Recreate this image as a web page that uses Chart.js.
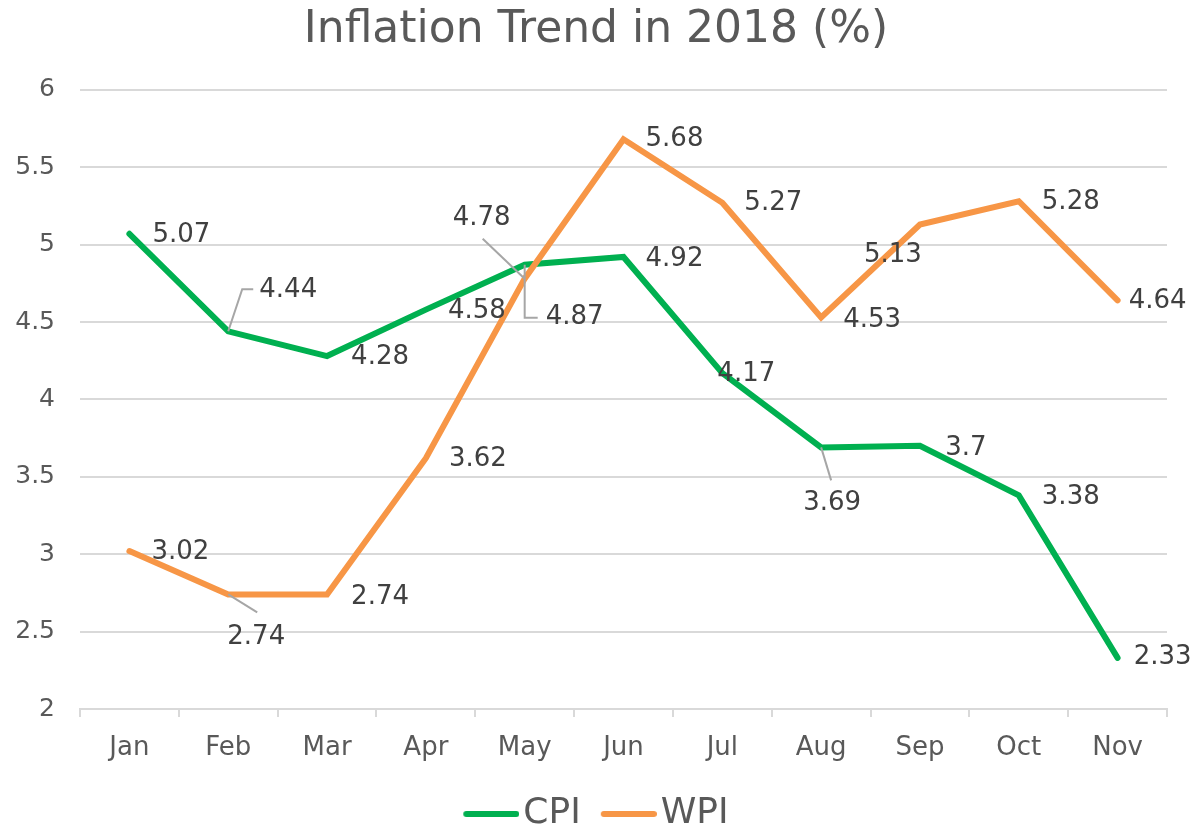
<!DOCTYPE html>
<html>
<head>
<meta charset="utf-8">
<script src="https://cdn.jsdelivr.net/npm/chart.js@4.4.0/dist/chart.umd.min.js"></script>
<style>
  html, body { margin: 0; padding: 0; background: #fff; }
</style>
</head>
<body>
<canvas id="myChart" width="1192" height="825"></canvas>
<script>
// data
const months = ["Jan", "Feb", "Mar", "Apr", "May", "Jun", "Jul", "Aug", "Sep", "Oct", "Nov"];
const cpiValues = [5.07, 4.44, 4.28, 4.58, 4.87, 4.92, 4.17, 3.69, 3.7, 3.38, 2.33];
const wpiValues = [3.02, 2.74, 2.74, 3.62, 4.78, 5.68, 5.27, 4.53, 5.13, 5.28, 4.64];
const yTickLabels = ["2", "2.5", "3", "3.5", "4", "4.5", "5", "5.5", "6"];

const FONT = "'DejaVu Sans', sans-serif";
const CPI_COLOR = '#00b050';
const WPI_COLOR = '#f79646';

// where each value label sits, relative to its point (text centre)
const labelOffsets = [
    [[52, 1], [60, -41], [53, 1], [51, 2], [50, 53], [51, 2], [24, 1], [11, 56], [46, 2], [52, 2], [45, -1]],
    [[51, 1], [28, 43], [53, 3], [52, 1], [-43, -60], [51, 0], [51, 0], [51, 3], [-27, 31], [52, 1], [40, 1]]
];
// leader lines (polyline relative to the point)
const leaders = [
    { 1: [[0, 0], [14, -42], [25, -42]], 4: [[0, 0], [0, 53], [13, 53]], 7: [[0, 0], [10, 33]] },
    { 1: [[0, 0], [29, 18]], 4: [[0, 0], [-42, -40]] }
];

// legend line marker: wider than the box so the text sits close to it
function legendLine(color) {
    const c = document.createElement('canvas');
    c.width = 70;
    c.height = 10;
    const g = c.getContext('2d');
    g.strokeStyle = color;
    g.lineWidth = 6;
    g.lineCap = 'round';
    g.beginPath();
    g.moveTo(17, 5);
    g.lineTo(67, 5);
    g.stroke();
    return c;
}

const valueLabels = {
    id: 'valueLabels',
    afterDatasetsDraw(chart) {
        const ctx = chart.ctx;
        ctx.save();
        chart.data.datasets.forEach((ds, di) => {
            const meta = chart.getDatasetMeta(di);
            meta.data.forEach((pt, i) => {
                const lead = leaders[di][i];
                if (lead) {
                    ctx.beginPath();
                    ctx.strokeStyle = '#a6a6a6';
                    ctx.lineWidth = 2;
                    lead.forEach((p, k) => {
                        if (k === 0) ctx.moveTo(pt.x + p[0], pt.y + p[1]);
                        else ctx.lineTo(pt.x + p[0], pt.y + p[1]);
                    });
                    ctx.stroke();
                }
                const off = labelOffsets[di][i];
                ctx.font = '26px ' + FONT;
                ctx.fillStyle = '#404040';
                ctx.textAlign = 'center';
                ctx.textBaseline = 'middle';
                ctx.fillText(String(ds.data[i]), pt.x + off[0], pt.y + off[1]);
            });
        });
        ctx.restore();
    }
};

var canvas = document.getElementById('myChart').getContext('2d');

new Chart(canvas, {
    type: 'line',
    data: {
        labels: months,
        datasets: [{
            label: 'CPI',
            data: cpiValues,
            borderColor: CPI_COLOR,
            backgroundColor: CPI_COLOR,
            borderWidth: 6,
            pointRadius: 0,
            pointStyle: legendLine(CPI_COLOR),
            borderCapStyle: 'round',
            order: 1
        }, {
            label: 'WPI',
            data: wpiValues,
            borderColor: WPI_COLOR,
            backgroundColor: WPI_COLOR,
            borderWidth: 6,
            pointRadius: 0,
            pointStyle: legendLine(WPI_COLOR),
            borderCapStyle: 'round',
            order: 0
        }]
    },
    options: {
        responsive: false,
        animation: false,
        devicePixelRatio: 1,
        layout: { padding: { top: 0, right: 0, bottom: -17, left: 0 } },
        scales: {
            x: {
                offset: true,
                grid: {
                    offset: true,
                    drawOnChartArea: false,
                    drawTicks: true,
                    tickLength: 8,
                    color: '#d9d9d9',
                    lineWidth: 2
                },
                border: { color: '#d9d9d9', width: 2 },
                ticks: { color: '#595959', font: { family: FONT, size: 26 }, padding: 16 },
                afterFit(scale) { scale.height = 67; }
            },
            y: {
                min: 2,
                max: 6,
                grid: { color: '#d9d9d9', lineWidth: 2, drawTicks: false },
                border: { display: false },
                ticks: {
                    stepSize: 0.5,
                    color: '#595959',
                    font: { family: FONT, size: 25 },
                    padding: 25,
                    callback: (v, i) => yTickLabels[i]
                },
                afterFit(scale) { scale.width = 80; }
            },
            // empty right-hand spacer so the title and legend centre on the page
            yRight: {
                position: 'right',
                grid: { display: false },
                border: { display: false },
                ticks: { display: false },
                afterFit(scale) { scale.width = 25; }
            }
        },
        plugins: {
            title: {
                display: true,
                text: 'Inflation Trend in 2018 (%)',
                color: '#595959',
                font: { family: FONT, size: 44, weight: 'normal' },
                padding: { top: 4, bottom: 33 }
            },
            legend: {
                position: 'bottom',
                labels: {
                    color: '#595959',
                    font: { family: FONT, size: 36 },
                    usePointStyle: true,
                    pointStyleWidth: 42,
                    boxHeight: 10,
                    padding: 20,
                    sort: (a, b) => a.datasetIndex - b.datasetIndex
                }
            },
            tooltip: { enabled: false }
        }
    },
    plugins: [valueLabels]
});
</script>
</body>
</html>
